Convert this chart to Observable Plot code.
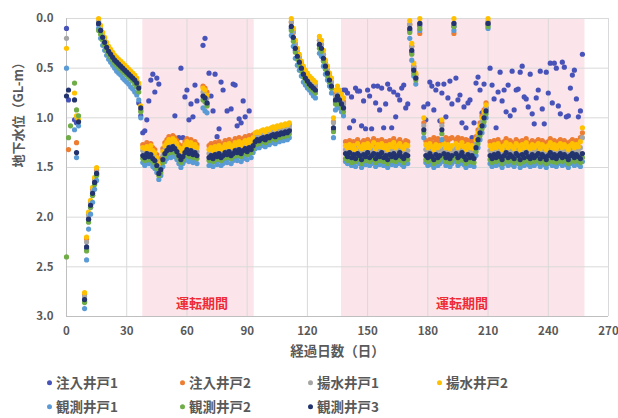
<!DOCTYPE html>
<html><head><meta charset="utf-8">
<script src="https://cdn.jsdelivr.net/npm/d3@7"></script>
<script src="https://cdn.jsdelivr.net/npm/@observablehq/plot@0.6"></script>
<style>
html,body{margin:0;padding:0;background:#fff;}
#chart svg{display:block;}
#legend{position:relative;width:618px;height:53px;font-family:"Noto Sans CJK JP",sans-serif;font-weight:bold;font-size:13.5px;color:#595959;}
.item{position:absolute;display:flex;align-items:center;white-space:nowrap;line-height:1;transform:translateY(-50%);}
.sw{width:5px;height:5px;border-radius:50%;margin-right:4px;}
</style></head><body>
<div id="chart"></div><div id="legend"></div>
<script>
const days = [
0,1,2,3,4,5,6,7,8,9,
10,11,12,13,14,15,16,17,18,19,
20,21,22,23,24,25,26,27,28,29,
30,31,32,33,34,35,36,37,38,39,
40,41,42,43,44,45,46,47,48,49,
50,51,52,53,54,55,56,57,58,59,
60,61,62,63,64,65,66,67,68,69,
70,71,72,73,74,75,76,77,78,79,
80,81,82,83,84,85,86,87,88,89,
90,91,92,93,94,95,96,97,98,99,
100,101,102,103,104,105,106,107,108,109,
110,111,112,113,114,115,116,117,118,119,
120,121,122,123,124,125,126,127,128,129,
130,131,132,133,134,135,136,137,138,139,
140,141,142,143,144,145,146,147,148,149,
150,151,152,153,154,155,156,157,158,159,
160,161,162,163,164,165,166,167,168,169,
170,171,172,173,174,175,176,177,178,179,
180,181,182,183,184,185,186,187,188,189,
190,191,192,193,194,195,196,197,198,199,
200,201,202,203,204,205,206,207,208,209,
210,211,212,213,214,215,216,217,218,219,
220,221,222,223,224,225,226,227,228,229,
230,231,232,233,234,235,236,237,238,239,
240,241,242,243,244,245,246,247,248,249,
250,251,252,253,254,255,256,257];

// 注入井戸1
const inj1 = [
0.1,0.82,null,null,1.02,1.05,null,null,null,2.85,
2.32,2.02,1.9,1.78,1.66,1.57,0.06,0.13,0.2,0.25,
0.3,0.34,0.37,0.4,0.43,0.45,0.47,0.49,0.51,0.53,
0.55,0.57,0.59,0.61,0.64,0.67,0.85,0.98,1.15,1.13,
1.02,0.83,0.62,0.56,0.74,0.6,0.66,1.5,1.4,1.35,
1.3,1.32,1.28,1.3,0.98,1.32,1.2,0.5,1.2,0.79,
0.72,1.02,0.86,0.99,0.67,0.83,null,null,0.27,0.2,
0.86,0.55,0.78,0.93,0.56,1.19,1.11,0.64,0.72,1.36,
0.93,1.34,0.91,0.66,0.67,1.08,1.01,1.05,0.83,0.99,
1.32,0.93,1.3,1.26,1.22,1.21,1.22,1.2,1.19,1.21,
1.18,1.19,1.17,1.16,1.18,1.15,1.16,1.14,1.15,1.13,
1.14,1.12,0.1,0.2,0.32,0.39,0.46,0.52,0.58,0.62,
0.65,0.68,0.7,0.72,0.74,null,0.27,0.32,0.42,0.5,
0.57,0.64,0.7,1.12,0.84,0.8,0.84,0.88,0.72,0.72,
0.75,1.1,0.79,1.03,0.7,0.73,0.73,1.08,0.83,1.11,
0.72,0.78,1.11,0.68,0.85,0.68,0.92,0.7,1.1,0.86,
0.66,0.71,1.1,0.74,0.99,0.77,0.82,0.7,0.67,0.9,
0.86,0.12,0.34,0.5,0.6,null,0.07,null,0.89,1.02,
0.86,0.64,0.68,0.92,0.72,0.66,1.03,0.75,0.66,0.99,
0.8,0.63,0.86,0.08,0.6,0.82,0.77,1.05,0.89,1.1,
0.85,0.82,1.2,1.05,0.65,0.59,0.72,0.95,0.66,0.9,
0.06,0.5,0.67,0.81,1.1,0.74,0.54,0.83,0.72,0.94,
0.67,0.98,0.53,0.92,0.72,0.71,0.54,0.48,0.79,0.81,
0.89,0.56,0.96,1.06,0.8,0.72,0.53,0.91,1.06,0.54,
0.75,0.45,0.85,0.45,0.5,0.88,0.96,0.44,0.49,0.99,
0.98,0.7,0.57,0.52,0.81,0.99,0.93,0.36];

// 注入井戸2
const inj2 = [
null,1.32,null,null,null,1.25,null,null,null,2.78,
2.22,1.97,1.85,1.72,1.62,1.53,0.04,0.1,0.17,0.22,
0.27,0.31,0.34,0.37,0.4,0.42,0.44,0.46,0.48,0.5,
0.52,0.54,0.56,0.58,0.6,0.63,0.68,0.92,1.27,1.28,
1.25,1.28,1.26,1.3,1.32,1.37,1.44,1.41,1.31,1.25,
1.22,1.19,1.21,1.18,1.2,1.23,1.27,1.31,1.28,1.24,
1.21,1.25,1.22,1.26,1.24,1.27,null,null,0.68,0.7,
0.74,1.28,1.26,1.29,1.25,1.27,1.24,1.28,1.26,1.23,
1.25,1.22,1.26,1.24,1.21,1.23,1.2,1.24,1.21,1.19,
1.22,1.18,1.2,1.17,1.17,1.16,1.17,1.15,1.14,1.16,
1.13,1.14,1.12,1.11,1.13,1.1,1.11,1.09,1.1,1.08,
1.09,1.07,0.04,0.14,0.26,0.34,0.4,0.46,0.52,0.56,
0.59,0.62,0.64,0.66,0.68,null,0.22,0.26,0.36,0.45,
0.52,0.58,0.64,1.04,0.76,0.72,0.76,0.8,0.84,1.24,
1.26,1.23,1.27,1.24,1.28,1.22,1.25,1.27,1.23,1.26,
1.22,1.26,1.24,1.21,1.27,1.23,1.25,1.22,1.26,1.24,
1.28,1.23,1.25,1.21,1.26,1.24,1.22,1.25,1.27,1.23,
1.24,0.06,0.28,0.48,0.57,null,0.15,null,1.05,1.23,
1.26,1.22,1.25,1.2,1.23,1.21,1.24,1.05,1.22,1.2,
1.23,1.21,1.2,0.15,1.22,1.2,1.23,1.21,1.24,1.22,
1.23,1.26,1.24,1.27,1.19,1.12,1.05,0.98,0.92,0.85,
0.04,1.24,1.27,1.23,1.26,1.22,1.25,1.28,1.24,1.21,
1.26,1.23,1.25,1.27,1.22,1.24,1.28,1.23,1.26,1.21,
1.25,1.27,1.23,1.26,1.24,1.22,1.27,1.23,1.25,1.28,
1.24,1.21,1.26,1.23,1.27,1.24,1.22,1.26,1.23,1.25,
1.28,1.24,1.22,1.26,1.23,1.25,1.2,1.15];

// 揚水井戸1
const pump1 = [
0.2,null,null,null,null,1.0,null,null,null,2.8,
2.25,1.98,1.86,1.74,1.63,1.55,0.03,0.1,0.17,0.22,
0.27,0.31,0.34,0.37,0.4,0.42,0.44,0.46,0.48,0.5,
0.52,0.54,0.56,0.58,0.6,0.63,0.68,0.93,1.33,1.35,
1.32,1.34,1.33,1.36,1.38,1.43,1.5,1.47,1.38,1.32,
1.29,1.26,1.28,1.25,1.27,1.3,1.34,1.38,1.35,1.31,
1.28,1.32,1.29,1.33,1.31,1.34,null,null,0.74,0.76,
0.8,1.36,1.34,1.37,1.33,1.35,1.32,1.36,1.34,1.31,
1.33,1.3,1.34,1.32,1.29,1.31,1.28,1.32,1.29,1.27,
1.3,1.26,1.28,1.24,1.2,1.18,1.19,1.17,1.16,1.18,
1.15,1.16,1.14,1.13,1.15,1.12,1.13,1.11,1.12,1.1,
1.11,1.09,0.03,0.13,0.25,0.33,0.39,0.45,0.51,0.55,
0.58,0.61,0.63,0.65,0.67,null,0.22,0.26,0.36,0.45,
0.52,0.58,0.64,1.05,0.78,0.74,0.78,0.82,0.86,1.32,
1.34,1.31,1.35,1.32,1.36,1.31,1.33,1.35,1.32,1.34,
1.31,1.35,1.33,1.31,1.36,1.32,1.34,1.31,1.35,1.33,
1.36,1.32,1.34,1.31,1.35,1.33,1.31,1.34,1.36,1.32,
1.33,0.06,0.28,0.48,0.57,null,0.05,null,1.08,1.32,
1.35,1.31,1.34,1.36,1.32,1.35,1.33,1.08,1.31,1.35,
1.32,1.36,1.33,0.05,1.31,1.35,1.33,1.3,1.34,1.36,
1.32,1.35,1.33,1.36,1.26,1.18,1.11,1.04,0.97,0.9,
0.03,1.33,1.36,1.32,1.35,1.31,1.34,1.36,1.33,1.3,
1.35,1.32,1.34,1.36,1.31,1.33,1.36,1.32,1.35,1.3,
1.34,1.36,1.32,1.35,1.33,1.31,1.36,1.32,1.34,1.36,
1.33,1.3,1.35,1.32,1.36,1.33,1.31,1.35,1.32,1.34,
1.36,1.33,1.31,1.35,1.32,1.34,1.3,1.2];

// 揚水井戸2
const pump2 = [
0.3,null,null,null,0.75,0.98,1.02,null,null,2.76,
2.2,1.95,1.83,1.7,1.6,1.5,0.0,0.07,0.14,0.19,
0.24,0.28,0.31,0.34,0.37,0.39,0.41,0.43,0.45,0.47,
0.49,0.51,0.53,0.55,0.57,0.6,0.65,0.88,1.3,1.31,
1.29,1.31,1.28,1.33,1.35,1.4,1.47,1.44,1.34,1.28,
1.25,1.22,1.24,1.21,1.23,1.26,1.3,1.34,1.31,1.27,
1.24,1.28,1.25,1.29,1.27,1.3,null,null,0.7,0.72,
0.77,1.32,1.3,1.33,1.29,1.31,1.28,1.32,1.3,1.27,
1.29,1.26,1.3,1.28,1.25,1.27,1.24,1.28,1.25,1.23,
1.26,1.22,1.24,1.2,1.15,1.14,1.15,1.13,1.12,1.14,
1.11,1.12,1.1,1.09,1.11,1.08,1.09,1.07,1.08,1.06,
1.07,1.05,0.0,0.1,0.22,0.3,0.36,0.43,0.48,0.52,
0.55,0.58,0.6,0.62,0.64,null,0.18,0.22,0.32,0.42,
0.48,0.55,0.6,1.0,0.72,0.68,0.72,0.76,0.8,1.28,
1.3,1.27,1.31,1.28,1.32,1.26,1.29,1.31,1.27,1.3,
1.26,1.3,1.28,1.25,1.31,1.27,1.29,1.26,1.3,1.28,
1.32,1.27,1.29,1.25,1.3,1.28,1.26,1.29,1.31,1.27,
1.28,0.02,0.25,0.45,0.55,null,0.0,null,1.0,1.27,
1.3,1.26,1.29,1.32,1.27,1.3,1.28,1.02,1.26,1.3,
1.27,1.31,1.28,0.0,1.26,1.3,1.28,1.25,1.29,1.32,
1.27,1.3,1.28,1.31,1.22,1.15,1.08,1.0,0.94,0.87,
0.0,1.28,1.31,1.27,1.3,1.26,1.29,1.32,1.28,1.25,
1.3,1.27,1.29,1.31,1.26,1.28,1.32,1.27,1.3,1.25,
1.29,1.31,1.27,1.3,1.28,1.26,1.31,1.27,1.29,1.32,
1.28,1.25,1.3,1.27,1.31,1.28,1.26,1.3,1.27,1.29,
1.32,1.28,1.26,1.3,1.27,1.29,1.24,1.1];

// 観測井戸1
const obs1 = [
0.5,null,null,null,1.12,1.4,1.08,null,null,2.92,
2.43,2.12,1.97,1.85,1.72,1.63,0.1,0.2,0.27,0.32,
0.37,0.41,0.44,0.47,0.5,0.53,0.55,0.57,0.6,0.62,
0.64,0.66,0.69,0.71,0.74,0.77,0.82,1.0,1.45,1.48,
1.44,1.46,1.45,1.49,1.51,1.55,1.62,1.58,1.49,1.44,
1.41,1.38,1.4,1.36,1.39,1.42,1.46,1.5,1.46,1.43,
1.4,1.44,1.41,1.45,1.42,1.46,null,null,0.9,0.93,
0.95,1.48,1.45,1.49,1.44,1.47,1.43,1.48,1.46,1.42,
1.45,1.41,1.46,1.43,1.4,1.43,1.39,1.44,1.41,1.38,
1.42,1.37,1.4,1.35,1.31,1.29,1.3,1.28,1.27,1.29,
1.26,1.27,1.25,1.24,1.26,1.23,1.24,1.22,1.23,1.21,
1.22,1.2,0.17,0.28,0.4,0.47,0.52,0.58,0.64,0.67,
0.7,0.72,0.75,0.78,0.8,null,0.35,0.38,0.48,0.56,
0.62,0.68,0.75,1.2,0.92,0.88,0.9,0.94,0.98,1.44,
1.46,1.43,1.48,1.45,1.49,1.44,1.46,1.5,1.45,1.47,
1.43,1.48,1.46,1.44,1.49,1.45,1.47,1.43,1.48,1.46,
1.5,1.45,1.47,1.44,1.48,1.46,1.43,1.47,1.49,1.45,
1.46,0.2,0.42,0.58,0.66,null,0.12,null,1.2,1.45,
1.48,1.44,1.47,1.5,1.45,1.48,1.46,1.22,1.44,1.48,
1.45,1.49,1.46,0.12,1.44,1.48,1.46,1.43,1.47,1.5,
1.45,1.48,1.46,1.49,1.38,1.3,1.22,1.15,1.08,1.0,
0.1,1.46,1.49,1.45,1.48,1.44,1.47,1.5,1.46,1.43,
1.48,1.45,1.47,1.49,1.44,1.46,1.5,1.45,1.48,1.43,
1.47,1.49,1.45,1.48,1.46,1.44,1.49,1.45,1.47,1.5,
1.46,1.43,1.48,1.45,1.49,1.46,1.44,1.48,1.45,1.47,
1.5,1.46,1.44,1.48,1.45,1.47,1.49,1.44];

// 観測井戸2
const obs2 = [
2.4,1.2,1.08,null,0.65,0.92,0.98,null,null,2.86,
2.34,2.05,1.9,1.78,1.67,1.58,0.12,0.16,0.22,0.27,
0.32,0.36,0.39,0.42,0.45,0.47,0.49,0.51,0.53,0.55,
0.57,0.59,0.61,0.63,0.66,0.69,0.74,0.94,1.41,1.43,
1.39,1.42,1.4,1.44,1.46,1.51,1.58,1.55,1.45,1.39,
1.36,1.33,1.35,1.32,1.34,1.37,1.41,1.45,1.42,1.38,
1.35,1.39,1.36,1.4,1.38,1.41,null,null,0.82,0.84,
0.88,1.43,1.41,1.44,1.4,1.42,1.39,1.43,1.41,1.38,
1.4,1.37,1.41,1.39,1.36,1.38,1.35,1.39,1.36,1.34,
1.37,1.33,1.35,1.31,1.27,1.25,1.26,1.24,1.23,1.25,
1.22,1.23,1.21,1.2,1.22,1.19,1.2,1.18,1.19,1.17,
1.18,1.16,0.12,0.23,0.34,0.41,0.47,0.53,0.59,0.63,
0.66,0.69,0.71,0.73,0.75,null,0.3,0.33,0.43,0.51,
0.58,0.64,0.7,1.14,0.86,0.82,0.86,0.9,0.94,1.41,
1.43,1.4,1.45,1.41,1.44,1.4,1.42,1.46,1.41,1.43,
1.39,1.44,1.42,1.4,1.45,1.41,1.43,1.39,1.44,1.42,
1.46,1.41,1.43,1.4,1.44,1.42,1.39,1.43,1.45,1.41,
1.42,0.14,0.36,0.55,0.62,null,0.1,null,1.15,1.42,
1.44,1.4,1.43,1.46,1.41,1.44,1.42,1.16,1.4,1.44,
1.41,1.45,1.42,0.08,1.4,1.44,1.42,1.39,1.43,1.46,
1.41,1.44,1.42,1.45,1.34,1.26,1.18,1.11,1.04,0.96,
0.08,1.42,1.45,1.41,1.44,1.4,1.43,1.46,1.42,1.39,
1.44,1.41,1.43,1.45,1.4,1.42,1.46,1.41,1.44,1.39,
1.43,1.45,1.41,1.44,1.42,1.4,1.45,1.41,1.43,1.46,
1.42,1.39,1.44,1.41,1.45,1.42,1.4,1.44,1.41,1.43,
1.46,1.42,1.4,1.44,1.41,1.43,1.45,1.4];

// 観測井戸3
const obs3 = [
0.78,0.72,null,null,0.82,1.35,1.04,null,null,2.83,
2.3,2.02,1.88,1.76,1.65,1.56,0.05,0.12,0.19,0.24,
0.29,0.33,0.36,0.39,0.42,0.44,0.46,0.48,0.5,0.52,
0.54,0.56,0.58,0.6,0.62,0.65,0.7,0.9,1.38,1.4,
1.36,1.39,1.37,1.41,1.43,1.48,1.56,1.52,1.42,1.36,
1.33,1.3,1.32,1.29,1.31,1.34,1.38,1.42,1.39,1.35,
1.32,1.36,1.33,1.37,1.35,1.38,null,null,0.78,0.8,
0.85,1.4,1.38,1.41,1.37,1.39,1.36,1.4,1.38,1.35,
1.37,1.34,1.38,1.36,1.33,1.35,1.32,1.36,1.33,1.31,
1.34,1.3,1.32,1.28,1.24,1.22,1.23,1.21,1.2,1.22,
1.19,1.2,1.18,1.17,1.19,1.16,1.17,1.15,1.16,1.14,
1.15,1.13,0.08,0.19,0.3,0.38,0.44,0.5,0.56,0.6,
0.63,0.66,0.68,0.7,0.72,null,0.26,0.3,0.4,0.48,
0.55,0.62,0.68,1.1,0.82,0.78,0.82,0.86,0.9,1.36,
1.39,1.35,1.4,1.37,1.41,1.36,1.38,1.42,1.37,1.39,
1.35,1.4,1.38,1.36,1.41,1.37,1.39,1.35,1.4,1.38,
1.42,1.37,1.39,1.36,1.4,1.38,1.35,1.39,1.41,1.37,
1.38,0.1,0.32,0.52,0.6,null,0.05,null,1.12,1.38,
1.4,1.36,1.39,1.42,1.37,1.4,1.38,1.12,1.36,1.4,
1.37,1.41,1.38,0.05,1.36,1.4,1.38,1.35,1.39,1.42,
1.37,1.4,1.38,1.41,1.3,1.22,1.15,1.08,1.0,0.93,
0.05,1.38,1.41,1.37,1.4,1.36,1.39,1.42,1.38,1.35,
1.4,1.37,1.39,1.41,1.36,1.38,1.42,1.37,1.4,1.35,
1.39,1.41,1.37,1.4,1.38,1.36,1.41,1.37,1.39,1.42,
1.38,1.35,1.4,1.37,1.41,1.38,1.36,1.4,1.37,1.39,
1.42,1.38,1.36,1.4,1.37,1.39,1.41,1.36];

const seriesNames = ["注入井戸1","注入井戸2","揚水井戸1","揚水井戸2","観測井戸1","観測井戸2","観測井戸3"];
const seriesColors = ["#4753b9","#ed7d31","#a5a5a5","#ffc000","#5b9bd5","#70ad47","#22336e"];
const seriesValues = [inj1, inj2, pump1, pump2, obs1, obs2, obs3];

const xTicks = [0,30,60,90,120,150,180,210,240,270];
const yTicks = [0,0.5,1,1.5,2,2.5,3];

const periodStart = [38, 137];
const periodEnd = [93.5, 258.3];
const periodLabelDay = [67.5, 197];
const periodLabel = ["運転期間","運転期間"];

const table = [];
seriesNames.forEach((name, k) => {
  seriesValues[k].forEach((v, i) => {
    if (v != null) table.push({day: days[i], level: v, series: name});
  });
});
const periods = periodStart.map((s, i) => ({start: s, end: periodEnd[i], mid: periodLabelDay[i], label: periodLabel[i]}));

const font = "'Noto Sans CJK JP', 'Noto Sans', sans-serif";

const chart = Plot.plot({
  width: 618,
  height: 365,
  marginLeft: 66,
  marginRight: 10,
  marginTop: 18,
  marginBottom: 49,
  style: {fontFamily: font, fontSize: "11.5px", fontWeight: "bold", color: "#595959", background: "#fff"},
  x: {domain: [0, 270], label: null},
  y: {domain: [0, 3], reverse: true, label: null},
  color: {domain: seriesNames, range: seriesColors},
  marks: [
    Plot.rect(periods, {x1: "start", x2: "end", fill: "#fce5ea"}),
    Plot.gridX(xTicks, {stroke: "#d9d9d9", strokeOpacity: 1}),
    Plot.gridY(yTicks, {stroke: "#d9d9d9", strokeOpacity: 1}),
    Plot.ruleX([0], {stroke: "#bfbfbf"}),
    Plot.ruleY([3], {stroke: "#bfbfbf"}),
    Plot.dot(table, {x: "day", y: "level", fill: "series", r: 2.6}),
    Plot.text(periods, {x: "mid", y: 2.87, text: "label", fill: "#ee2b36", fontSize: 13, fontWeight: "bold"}),
    Plot.axisX(xTicks, {tickSize: 0, tickPadding: 10, label: null}),
    Plot.axisY(yTicks, {tickSize: 0, tickPadding: 13, tickFormat: d3.format(".1f"), label: null}),
    Plot.text(["経過日数（日）"], {frameAnchor: "bottom", dy: 39, fontSize: 13.5, fill: "#595959"}),
    Plot.text(["地下水位（GL-m）"], {frameAnchor: "left", dx: -48, rotate: -90, fontSize: 13, fill: "#595959"})
  ]
});
document.getElementById("chart").appendChild(chart);

const legendX = [47, 180, 308, 437, 47, 180, 308];
const legendY = [18, 18, 18, 18, 42, 42, 42];
const legend = document.getElementById("legend");
seriesNames.forEach((name, i) => {
  const item = document.createElement("div");
  item.className = "item";
  item.style.left = legendX[i] + "px";
  item.style.top = legendY[i] + "px";
  const sw = document.createElement("span");
  sw.className = "sw";
  sw.style.background = seriesColors[i];
  item.appendChild(sw);
  const t = document.createElement("span");
  t.textContent = name;
  item.appendChild(t);
  legend.appendChild(item);
});
</script></body></html>
